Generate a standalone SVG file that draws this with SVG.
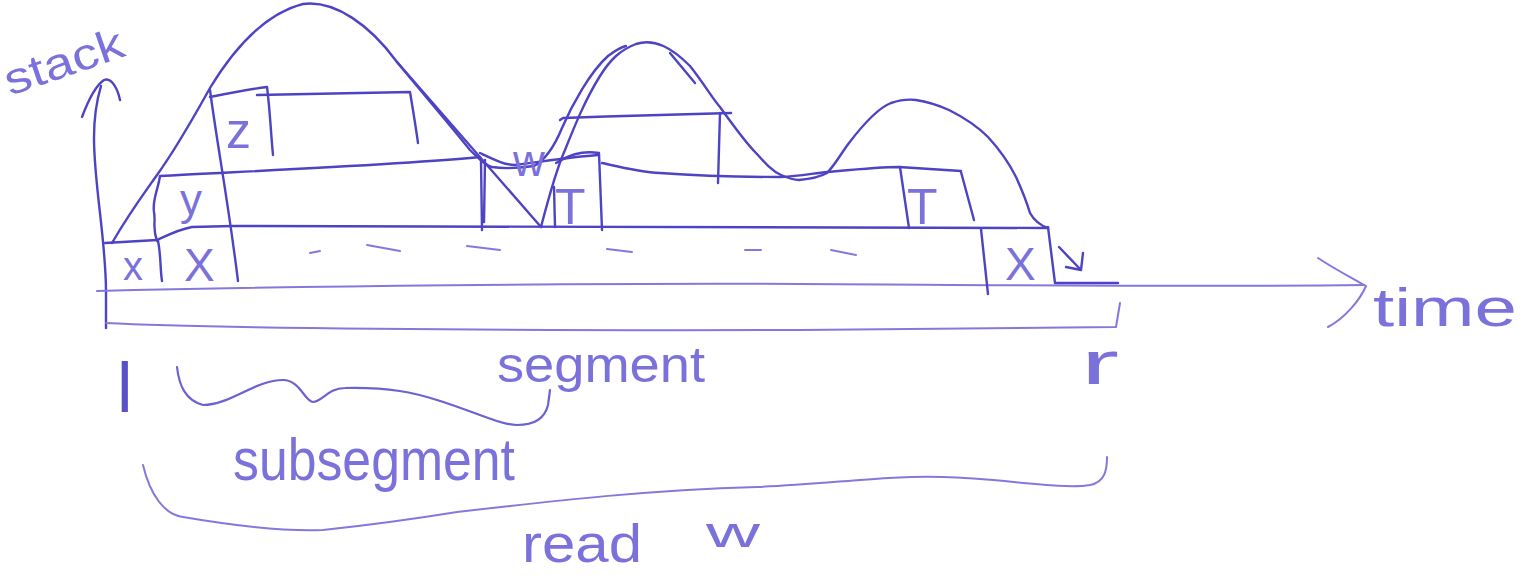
<svg xmlns="http://www.w3.org/2000/svg" width="1534" height="586" viewBox="0 0 1534 586">
<style>
.ink{fill:none;stroke:#4d43c3;stroke-width:2.4;stroke-linecap:round;stroke-linejoin:round}
.lt{fill:none;stroke:#8379dc;stroke-width:2;stroke-linecap:round;stroke-linejoin:round}
.br{fill:none;stroke:#6c62d2;stroke-width:2.2;stroke-linecap:round;stroke-linejoin:round}
.t{font-family:"Liberation Sans","DejaVu Sans",sans-serif;fill:#7b71db}
.tb{font-family:"Liberation Sans","DejaVu Sans",sans-serif;fill:#5a50c8}
</style>
<rect width="1534" height="586" fill="#ffffff"/>

<g id="axes">
  <path class="ink" d="M106,328 L106,292 C106,240 94,185 94,138 C94,112 98,96 101,86"/>
  <path class="ink" d="M82,117 C88,101 95,86 104,80 C112,77 118,90 120,100"/>
  <path class="lt" d="M97,291 C300,286 600,283 800,284 C1000,285 1200,287 1364,285"/>
  <path class="lt" d="M1318,258 C1336,270 1354,279 1366,286 C1360,300 1345,318 1328,327"/>
  <path class="lt" d="M106,323 C200,328 500,331 800,330 C1000,329 1060,328 1116,327 L1120,303"/>
</g>

<g id="layers">
  <path class="ink" d="M105,243 L157,240 C170,234 180,229 192,227 L233,226 C400,224 700,226 1048,228"/>
  <path class="ink" d="M158,241 C161,255 160,268 162,281"/>
  <path class="ink" d="M210,90 C218,150 228,200 238,281"/>
  <path class="ink" d="M981,229 L988,294"/>
  <path class="ink" d="M1048,227 L1055,283 L1118,283"/>
  <path class="ink" d="M157,241 C152,228 156,222 154,212 C152,200 158,190 160,176 C230,172 400,165 480,157"/>
  <path class="ink" d="M481,160 L482,230 M485,160 L484,222"/>
  <path class="ink" d="M210,97 C230,93 250,89 267,87 C270,110 271,135 273,155"/>
  <path class="ink" d="M257,95 C320,94 370,93 410,92 C413,110 416,128 418,143"/>
  <path class="ink" d="M554,187 L555,227"/>
  <path class="ink" d="M556,163 C568,156 580,150 599,153 L602,230"/>
  <path class="ink" d="M480,153 C495,160 505,165 515,165 C540,162 570,157 598,155"/>
  <path class="ink" d="M602,163 C620,167 640,172 660,173 C700,176 740,177 781,177 C800,176 815,173 827,172 C860,169 880,167 899,167 L961,171"/>
  <path class="ink" d="M560,120 L563,118 C620,116 680,114 731,113"/>
  <path class="ink" d="M720,113 L718,183"/>
  <path class="ink" d="M900,167 L909,228"/>
  <path class="ink" d="M961,172 L974,220"/>
  <path class="ink" d="M1059,247 L1081,270 M1066,267 L1081,270 L1083,253"/>
</g>

<g id="dashes">
  <path class="lt" d="M310,253 L320,251 M367,245 L400,251 M467,246 L500,250 M607,249 L632,252 M745,250 L761,250 M831,250 L856,255"/>
</g>

<g id="curve">
  <path class="ink" d="M112,243 C130,212 145,192 157,175 C175,150 195,115 210,88 C230,55 260,15 303,4 C335,0 370,25 397,62 L541,227"/>
  <path class="ink" d="M397,62 C420,90 450,125 470,150 C478,158 485,165 492,167 C505,169 520,168 534,166"/>
  <path class="ink" d="M541,227 C548,200 556,170 565,150 C575,125 585,100 600,76 C610,60 620,50 636,44 C655,38 672,48 690,66 C705,85 712,98 720,107 C735,128 745,142 756,153 C765,163 772,171 781,175 C790,179 795,180 799,180 C810,179 820,177 827,173 C835,165 842,152 849,143 C865,122 878,108 891,103 C900,100 908,99 916,100 C930,102 940,106 949,110 C965,118 978,127 988,137 C1000,150 1010,165 1016,177 C1022,190 1027,203 1030,213 C1035,222 1042,226 1048,228"/>
  <path class="ink" d="M534,166 C545,160 555,145 562,128 C572,105 590,72 608,56 C616,50 622,47 626,46"/>
  <path class="ink" d="M670,53 L695,83"/>
</g>

<g id="labels">
  <text class="t" x="10" y="96" font-size="44" textLength="124" lengthAdjust="spacingAndGlyphs" transform="rotate(-19 10 96)">stack</text>
  <text class="t" x="1373" y="326" font-size="54" textLength="144" lengthAdjust="spacingAndGlyphs">time</text>
  <text class="t" x="123" y="280" font-size="40">x</text>
  <text class="t" x="184" y="281" font-size="46">X</text>
  <text class="t" x="1005" y="280" font-size="46">X</text>
  <text class="t" x="180" y="215" font-size="44">y</text>
  <text class="t" x="226" y="148" font-size="50">z</text>
  <text class="t" x="555" y="224" font-size="50">T</text>
  <text class="t" x="907" y="224" font-size="50">T</text>
  <text class="t" x="513" y="176" font-size="44">w</text>
  <text class="tb" x="117" y="412" font-size="70">l</text>
  <text class="t" x="1081" y="384" font-size="62" textLength="38" lengthAdjust="spacingAndGlyphs">r</text>
  <text class="t" x="497" y="382" font-size="50" textLength="208" lengthAdjust="spacingAndGlyphs">segment</text>
  <text class="t" x="233" y="480" font-size="60" textLength="282" lengthAdjust="spacingAndGlyphs">subsegment</text>
  <text class="t" x="522" y="562" font-size="54" textLength="120" lengthAdjust="spacingAndGlyphs">read</text>
  <text class="t" x="706" y="547" font-size="42" textLength="54" lengthAdjust="spacingAndGlyphs">w</text>
</g>

<g id="braces">
  <path class="br" d="M177,367 C179,385 185,400 203,405 C230,405 255,380 283,380 C300,380 305,402 313,402 C322,402 328,388 345,388 C390,387 415,393 437,400 C470,410 500,425 517,425 C535,425 545,418 548,405 L550,390"/>
  <path class="lt" d="M143,465 C150,495 165,515 183,517 C230,525 280,532 323,530 C370,525 420,518 457,512 C560,500 650,490 757,487 C830,484 890,475 943,477 C1000,478 1060,490 1090,485 C1105,482 1107,470 1107,457"/>
</g>
</svg>
